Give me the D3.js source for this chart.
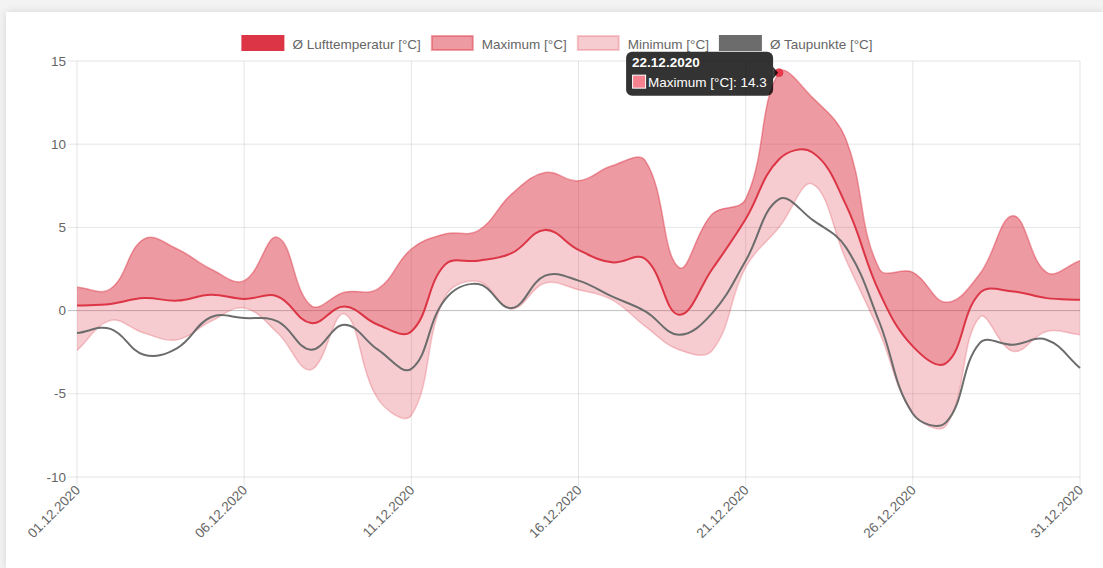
<!DOCTYPE html>
<html lang="de">
<head>
<meta charset="UTF-8">
<title>Temperatur Dezember 2020</title>
<script src="https://cdn.jsdelivr.net/npm/d3@7"></script>
<style>
  html, body { margin: 0; padding: 0; }
  body { width: 1103px; height: 568px; background: #f3f3f3; overflow: hidden; font-family: "Liberation Sans", Arial, sans-serif; }
  .card { position: absolute; left: 6px; top: 12px; width: 1097px; height: 556px; background: #fff; box-shadow: 0 0 8px rgba(0,0,0,0.12); }
  svg { position: absolute; left: 0; top: 0; }
</style>
</head>
<body>
<div class="card"></div>
<svg id="chart" width="1103" height="568"></svg>
<script>
// daily values, December 2020
const dates = ['01.12.2020','02.12.2020','03.12.2020','04.12.2020','05.12.2020','06.12.2020','07.12.2020','08.12.2020',
  '09.12.2020','10.12.2020','11.12.2020','12.12.2020','13.12.2020','14.12.2020','15.12.2020','16.12.2020','17.12.2020',
  '18.12.2020','19.12.2020','20.12.2020','21.12.2020','22.12.2020','23.12.2020','24.12.2020','25.12.2020','26.12.2020',
  '27.12.2020','28.12.2020','29.12.2020','30.12.2020','31.12.2020']
const tempMean = [0.3,0.4,0.75,0.6,0.95,0.7,0.85,-0.75,0.25,-0.85,-1.25,2.75,3.0,3.45,4.85,3.65,2.9,3.1,-0.25,2.5,5.5,9.1,9.5,6.35,1.1,-2.15,-3.15,1.05,1.15,0.75,0.65]
const tempMax = [1.4,1.3,4.3,3.7,2.5,1.8,4.4,0.3,1.1,1.3,3.7,4.6,4.8,7.0,8.3,7.8,8.7,9.0,2.6,5.8,6.7,14.3,12.8,10.3,2.5,2.3,0.5,2.2,5.7,2.3,3.0]
const tempMin = [-2.4,-0.6,-1.35,-1.75,-0.65,0.15,-1.35,-3.55,-0.2,-5.3,-6.3,0.8,1.75,0.1,1.65,1.25,0.65,-0.95,-2.35,-2.4,2.6,5.0,7.6,3.05,-1.3,-6.15,-6.9,-0.4,-2.45,-1.25,-1.45]
const dewPoint = [-1.35,-1.1,-2.65,-2.25,-0.4,-0.45,-0.65,-2.35,-0.85,-2.35,-3.5,0.65,1.6,0.15,2.1,1.8,0.85,-0.05,-1.45,-0.15,3.0,6.7,5.45,3.8,-0.7,-6.2,-6.7,-1.95,-2.05,-1.75,-3.45]
const yTicks = [-10,-5,0,5,10,15]
const legendLabels = ['Ø Lufttemperatur [°C]','Maximum [°C]','Minimum [°C]','Ø Taupunkte [°C]']
const hoverIndex = 21

const red = 'rgb(220,53,69)'
const fs = 13.5
const svg = d3.select('#chart')
const plotL = 77, plotR = 1080, plotT = 61, plotB = 477

const x = d3.scalePoint().domain(d3.range(dates.length)).range([plotL, plotR])
const y = d3.scaleLinear().domain([-10, 15]).range([plotB, plotT])

// spline like Chart.js (tension 0.4)
function SplineCurve(context) { this._context = context }
SplineCurve.prototype = {
  areaStart() { this._line = 0 },
  areaEnd() { this._line = NaN },
  lineStart() { this._pts = [] },
  point(px, py) { this._pts.push([+px, +py]) },
  lineEnd() {
    const p = this._pts, c = this._context, t = 0.4, n = p.length
    if (n) {
      const cps = p.map((cur, i) => {
        const prev = p[i - 1] || cur, next = p[i + 1] || cur
        const d01 = Math.hypot(cur[0] - prev[0], cur[1] - prev[1])
        const d12 = Math.hypot(next[0] - cur[0], next[1] - cur[1])
        let s01 = d01 / (d01 + d12), s12 = d12 / (d01 + d12)
        if (isNaN(s01)) s01 = 0
        if (isNaN(s12)) s12 = 0
        const fa = t * s01, fb = t * s12
        return {
          prev: [cur[0] - fa * (next[0] - prev[0]), cur[1] - fa * (next[1] - prev[1])],
          next: [cur[0] + fb * (next[0] - prev[0]), cur[1] + fb * (next[1] - prev[1])]
        }
      })
      if (this._line) c.lineTo(p[0][0], p[0][1]); else c.moveTo(p[0][0], p[0][1])
      for (let i = 1; i < n; i++) {
        c.bezierCurveTo(cps[i - 1].next[0], cps[i - 1].next[1], cps[i].prev[0], cps[i].prev[1], p[i][0], p[i][1])
      }
    }
    if (this._line || (this._line !== 0 && n === 1)) c.closePath()
    this._line = 1 - this._line
  }
}
const spline = ctx => new SplineCurve(ctx)

// grid
const grid = svg.append('g')
grid.selectAll('.hgrid').data(yTicks).join('line')
  .attr('x1', plotL - 9).attr('x2', plotR)
  .attr('y1', d => y(d)).attr('y2', d => y(d))
  .attr('stroke', d => d === 0 ? 'rgba(0,0,0,0.25)' : 'rgba(0,0,0,0.1)')
  .attr('stroke-width', 1)
const xTickIdx = d3.range(0, dates.length, 5)
grid.selectAll('.vgrid').data(xTickIdx).join('line')
  .attr('x1', d => x(d)).attr('x2', d => x(d))
  .attr('y1', plotT).attr('y2', plotB + 9)
  .attr('stroke', 'rgba(0,0,0,0.1)')
  .attr('stroke-width', 1)

// y labels
svg.append('g').selectAll('text').data(yTicks).join('text')
  .attr('x', plotL - 11).attr('y', d => y(d) + 4.5)
  .attr('text-anchor', 'end')
  .attr('font-size', fs).attr('fill', '#666')
  .text(d => d)

// x labels rotated
svg.append('g').selectAll('text').data(xTickIdx).join('text')
  .attr('transform', d => `translate(${x(d) + 4},${plotB + 14}) rotate(-45)`)
  .attr('text-anchor', 'end')
  .attr('font-size', fs).attr('fill', '#666')
  .text(d => dates[d])

const idx = d3.range(dates.length)

// max area (between max and mean)
svg.append('path')
  .datum(idx)
  .attr('d', d3.area().curve(spline).x(i => x(i)).y1(i => y(tempMax[i])).y0(i => y(tempMean[i])))
  .attr('fill', 'rgba(220,53,69,0.5)')
svg.append('path')
  .datum(idx)
  .attr('d', d3.line().curve(spline).x(i => x(i)).y(i => y(tempMax[i])))
  .attr('fill', 'none').attr('stroke', 'rgba(220,53,69,0.45)').attr('stroke-width', 1.5)

// min area (between mean and min)
svg.append('path')
  .datum(idx)
  .attr('d', d3.area().curve(spline).x(i => x(i)).y1(i => y(tempMean[i])).y0(i => y(tempMin[i])))
  .attr('fill', 'rgba(220,53,69,0.25)')
svg.append('path')
  .datum(idx)
  .attr('d', d3.line().curve(spline).x(i => x(i)).y(i => y(tempMin[i])))
  .attr('fill', 'none').attr('stroke', 'rgba(220,53,69,0.25)').attr('stroke-width', 1.5)

// dew point line
svg.append('path')
  .datum(idx)
  .attr('d', d3.line().curve(spline).x(i => x(i)).y(i => y(dewPoint[i])))
  .attr('fill', 'none').attr('stroke', 'rgb(108,108,108)').attr('stroke-width', 2)

// mean line
svg.append('path')
  .datum(idx)
  .attr('d', d3.line().curve(spline).x(i => x(i)).y(i => y(tempMean[i])))
  .attr('fill', 'none').attr('stroke', red).attr('stroke-width', 2)

// legend
const legendColors = [
  { fill: red, stroke: red },
  { fill: 'rgba(220,53,69,0.5)', stroke: 'rgba(220,53,69,0.45)' },
  { fill: 'rgba(220,53,69,0.25)', stroke: 'rgba(220,53,69,0.25)' },
  { fill: 'rgb(108,108,108)', stroke: 'rgb(108,108,108)' }
]
const legend = svg.append('g')
const items = legend.selectAll('g').data(legendLabels).join('g')
items.append('text')
  .attr('font-size', fs).attr('fill', '#666').attr('y', 49)
  .text(d => d)
let widths = []
items.selectAll('text').each(function () { widths.push(this.getComputedTextLength()) })
const itemW = widths.map(w => 42 + 9 + w)
const totalW = d3.sum(itemW) + 10 * (itemW.length - 1)
let lx = 557 - totalW / 2
items.each(function (d, i) {
  const g = d3.select(this).attr('transform', `translate(${lx},0)`)
  g.insert('rect', 'text')
    .attr('x', 1).attr('y', 36).attr('width', 41).attr('height', 14)
    .attr('fill', legendColors[i].fill)
    .attr('stroke', legendColors[i].stroke).attr('stroke-width', 2)
  g.select('text').attr('x', 51)
  lx += itemW[i] + 10
})

// hover point + tooltip
const hx = x(hoverIndex), hy = y(tempMax[hoverIndex])
svg.append('circle')
  .attr('cx', hx).attr('cy', hy).attr('r', 4)
  .attr('fill', 'rgb(232,60,78)').attr('stroke', 'rgba(220,53,69,0.6)').attr('stroke-width', 1)

const tip = svg.append('g')
const tipR = hx - 6, tipT = hy - 21
tip.append('rect')
  .attr('x', tipR - 147).attr('y', tipT).attr('width', 147).attr('height', 44).attr('rx', 6)
  .attr('fill', 'rgba(0,0,0,0.8)')
tip.append('path')
  .attr('d', `M${tipR},${hy - 6}L${tipR + 5},${hy}L${tipR},${hy + 6}Z`)
  .attr('fill', 'rgba(0,0,0,0.8)')
tip.append('text')
  .attr('x', tipR - 141).attr('y', tipT + 15)
  .attr('font-size', fs).attr('font-weight', 'bold').attr('fill', '#fff')
  .text(dates[hoverIndex])
tip.append('rect')
  .attr('x', tipR - 140.5).attr('y', tipT + 23.5).attr('width', 13).attr('height', 13)
  .attr('fill', 'rgb(245,130,142)').attr('stroke', '#fff').attr('stroke-width', 1)
tip.append('text')
  .attr('x', tipR - 125).attr('y', tipT + 35)
  .attr('font-size', fs).attr('fill', '#fff')
  .text(legendLabels[1] + ': ' + tempMax[hoverIndex])
</script>
</body>
</html>
